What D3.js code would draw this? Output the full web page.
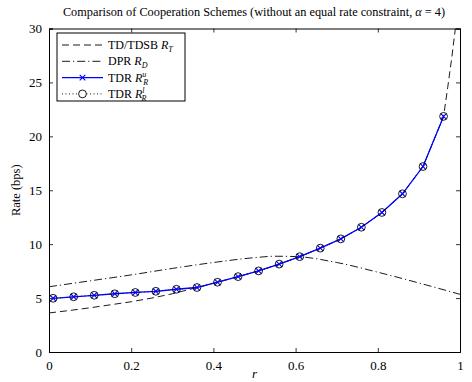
<!DOCTYPE html>
<html>
<head>
<meta charset="utf-8">
<script src="https://cdn.jsdelivr.net/npm/d3@7"></script>
<style>
  body { margin: 0; background: #fff; }
  svg { display: block; }
  svg text { font-family: 'Liberation Serif', 'Times New Roman', serif; }
</style>
</head>
<body>
<svg id="chart"></svg>
<script>
// data
const rMarkers = [0.01, 0.06, 0.11, 0.16, 0.21, 0.26, 0.31, 0.36, 0.41, 0.46,
                  0.51, 0.56, 0.61, 0.66, 0.71, 0.76, 0.81, 0.86, 0.91, 0.96];
const tdrUpper = [4.98, 5.12, 5.26, 5.40, 5.52, 5.63, 5.82, 5.98, 6.47, 6.99,
                  7.52, 8.15, 8.84, 9.63, 10.49, 11.57, 12.94, 14.67, 17.2, 21.85];
const tdrLower = [4.98, 5.12, 5.26, 5.40, 5.52, 5.63, 5.82, 5.98, 6.47, 6.99,
                  7.52, 8.15, 8.84, 9.63, 10.49, 11.57, 12.94, 14.67, 17.2, 21.85];

const rTd   = [0, 0.05, 0.1, 0.15, 0.2, 0.25, 0.3, 0.36, 0.41, 0.46, 0.51, 0.56,
               0.61, 0.66, 0.71, 0.76, 0.81, 0.86, 0.91, 0.96, 0.97, 0.98, 0.99];
const tdVal = [3.62, 3.85, 4.1, 4.38, 4.66, 5.0, 5.4, 5.98, 6.47, 6.99, 7.52, 8.15,
               8.84, 9.63, 10.49, 11.57, 12.94, 14.67, 17.2, 21.85, 24.5, 27.3, 30.4];

const rDpr   = [0, 0.1, 0.2, 0.3, 0.4, 0.5, 0.55, 0.6, 0.7, 0.8, 0.9, 1.0];
const dprVal = [6.05, 6.6, 7.15, 7.75, 8.3, 8.75, 8.88, 8.85, 8.3, 7.4, 6.4, 5.35];

const xTicks = [0, 0.2, 0.4, 0.6, 0.8, 1];
const yTicks = [0, 5, 10, 15, 20, 25, 30];

const W = 472, H = 382;
const margin = { top: 28.5, right: 12, bottom: 30, left: 49 };
const innerW = W - margin.left - margin.right;
const innerH = H - margin.top - margin.bottom;
const FONT = "'Liberation Serif', 'Times New Roman', serif";

const svg = d3.select('#chart').attr('width', W).attr('height', H)
  .attr('font-family', FONT);

const x = d3.scaleLinear().domain([0, 1]).range([0, innerW]);
const y = d3.scaleLinear().domain([0, 30]).range([innerH, 0]);

const g = svg.append('g').attr('transform', `translate(${margin.left},${margin.top})`);

g.append('clipPath').attr('id', 'clip')
  .append('rect').attr('width', innerW).attr('height', innerH);

// axes: ticks pointing inward, on all four sides
const fmt = d => d3.format('')(d);
const axB = g.append('g').attr('transform', `translate(0,${innerH})`)
  .call(d3.axisBottom(x).tickValues(xTicks).tickSize(-4).tickPadding(9).tickFormat(fmt));
const axL = g.append('g')
  .call(d3.axisLeft(y).tickValues(yTicks).tickSize(-4).tickPadding(7));
const axT = g.append('g')
  .call(d3.axisTop(x).tickValues(xTicks).tickSize(-4).tickFormat(''));
const axR = g.append('g').attr('transform', `translate(${innerW},0)`)
  .call(d3.axisRight(y).tickValues(yTicks).tickSize(-4).tickFormat(''));

[axB, axL, axT, axR].forEach(a => {
  a.attr('font-family', FONT).attr('font-size', 13);
  a.select('.domain').attr('stroke', '#000').attr('stroke-width', 1);
  a.selectAll('.tick line').attr('stroke', '#000').attr('stroke-width', 0.8);
  a.selectAll('text').attr('fill', '#000');
});

const plot = g.append('g').attr('clip-path', 'url(#clip)');

const lineOf = (xs, ys, curve) => d3.line()
  .x((d, i) => x(xs[i])).y(d => y(d)).curve(curve)(ys);

// TD/TDSB
plot.append('path')
  .attr('d', lineOf(rTd, tdVal, d3.curveLinear))
  .attr('fill', 'none').attr('stroke', '#000').attr('stroke-width', 0.9)
  .attr('stroke-dasharray', '7,4');

// DPR
plot.append('path')
  .attr('d', lineOf(rDpr, dprVal, d3.curveMonotoneX))
  .attr('fill', 'none').attr('stroke', '#000').attr('stroke-width', 0.9)
  .attr('stroke-dasharray', '8,3,1.2,3');

// TDR lower (dotted, circles)
plot.append('path')
  .attr('d', lineOf(rMarkers, tdrLower, d3.curveLinear))
  .attr('fill', 'none').attr('stroke', '#000').attr('stroke-width', 0.9)
  .attr('stroke-dasharray', '1,2.5');

// TDR upper (blue, crosses)
plot.append('path')
  .attr('d', lineOf(rMarkers, tdrUpper, d3.curveLinear))
  .attr('fill', 'none').attr('stroke', '#0000ff').attr('stroke-width', 1.3);

plot.selectAll('.cross')
  .data(tdrUpper)
  .join('path')
    .attr('class', 'cross')
    .attr('transform', (d, i) => `translate(${x(rMarkers[i])},${y(d)})`)
    .attr('d', 'M-2.8,-2.8L2.8,2.8M-2.8,2.8L2.8,-2.8')
    .attr('stroke', '#0000ff').attr('stroke-width', 1.1);

plot.selectAll('.circ')
  .data(tdrLower)
  .join('circle')
    .attr('class', 'circ')
    .attr('cx', (d, i) => x(rMarkers[i]))
    .attr('cy', d => y(d))
    .attr('r', 3.9)
    .attr('fill', 'none').attr('stroke', '#000').attr('stroke-width', 0.9);

// labels
svg.append('text')
  .attr('x', 254).attr('y', 16)
  .attr('text-anchor', 'middle')
  .attr('font-size', 12.3)
  .html('Comparison of Cooperation Schemes (without an equal rate constraint, <tspan font-style="italic">α</tspan> = 4)');

svg.append('text')
  .attr('x', margin.left + innerW / 2).attr('y', 378)
  .attr('text-anchor', 'middle')
  .attr('font-size', 13).attr('font-style', 'italic')
  .text('r');

svg.append('text')
  .attr('transform', 'rotate(-90)')
  .attr('x', -(margin.top + innerH / 2)).attr('y', 20)
  .attr('text-anchor', 'middle')
  .attr('font-size', 12.5)
  .text('Rate (bps)');

// legend
const leg = svg.append('g').attr('transform', 'translate(57,33)');
leg.append('rect')
  .attr('width', 128).attr('height', 68)
  .attr('fill', '#fff').attr('stroke', '#000').attr('stroke-width', 1);

const legItems = [
  { label: 'TD/TDSB ', sym: 'R', sub: 'T', sup: null, dash: '7,4', color: '#000', mark: null },
  { label: 'DPR ', sym: 'R', sub: 'D', sup: null, dash: '8,3,1.2,3', color: '#000', mark: null },
  { label: 'TDR ', sym: 'R', sub: 'R', sup: 'u', dash: null, color: '#0000ff', mark: 'x' },
  { label: 'TDR ', sym: 'R', sub: 'R', sup: 'l', dash: '1,2.5', color: '#000', mark: 'o' }
];

legItems.forEach((it, i) => {
  const yy = 12 + i * 16.3;
  leg.append('line')
    .attr('x1', 5).attr('x2', 46).attr('y1', yy).attr('y2', yy)
    .attr('stroke', it.color).attr('stroke-width', it.mark === 'x' ? 1.3 : 0.9)
    .attr('stroke-dasharray', it.dash);
  if (it.mark === 'x') {
    leg.append('path')
      .attr('transform', `translate(25.5,${yy})`)
      .attr('d', 'M-2.8,-2.8L2.8,2.8M-2.8,2.8L2.8,-2.8')
      .attr('stroke', '#0000ff').attr('stroke-width', 1.1);
  }
  if (it.mark === 'o') {
    leg.append('circle')
      .attr('cx', 25.5).attr('cy', yy).attr('r', 3.9)
      .attr('fill', '#fff').attr('stroke', '#000').attr('stroke-width', 0.9);
  }
  const t = leg.append('text')
    .attr('x', 51).attr('y', yy + 4)
    .attr('font-size', 12);
  t.append('tspan').text(it.label);
  t.append('tspan').attr('font-style', 'italic').text(it.sym);
  if (it.sup) {
    t.append('tspan').attr('font-size', 8).attr('font-style', 'italic')
      .attr('dy', -4.5).text(it.sup);
    t.append('tspan').attr('font-size', 8).attr('font-style', 'italic')
      .attr('dx', -3).attr('dy', 7.5).text(it.sub);
  } else {
    t.append('tspan').attr('font-size', 8).attr('font-style', 'italic')
      .attr('dy', 3).text(it.sub);
  }
});
</script>
</body>
</html>
